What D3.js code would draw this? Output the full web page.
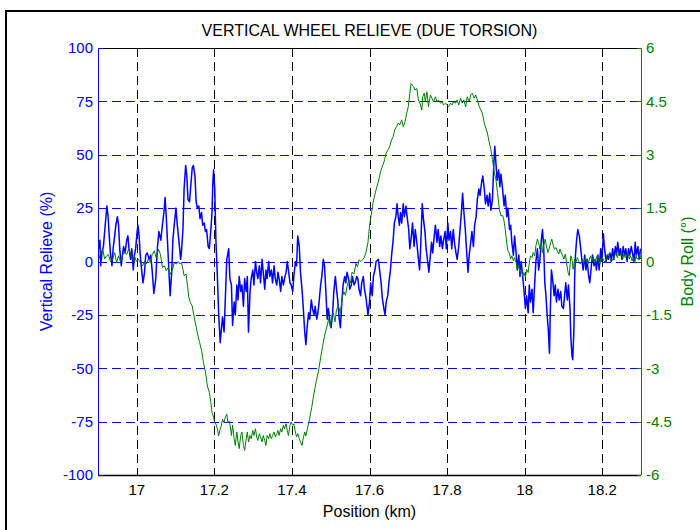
<!DOCTYPE html>
<html>
<head>
<meta charset="utf-8">
<script src="https://cdn.jsdelivr.net/npm/d3@7"></script>
<style>
  body { margin: 0; background: #fff; }
  svg text { font-family: "Liberation Sans", Arial, sans-serif; }
</style>
</head>
<body>
<div id="chart"></div>
<script>
// tick labels
const xTicks = [17, 17.2, 17.4, 17.6, 17.8, 18, 18.2]
const leftTicks = [-100, -75, -50, -25, 0, 25, 50, 75, 100]
const rightTicks = [-6, -4.5, -3, -1.5, 0, 1.5, 3, 4.5, 6]

// vertical wheel relieve [km, %]
const relieve = [
  [16.902,6],[16.905,10],[16.907,-2],[16.910,4],[16.914,7],[16.919,18],[16.923,26],[16.926,21],[16.929,12],[16.932,4],
  [16.936,-2],[16.939,6],[16.943,12],[16.946,17],[16.950,21],[16.953,17],[16.956,6],[16.960,-2],[16.963,3],[16.966,7],
  [16.970,4],[16.974,10],[16.977,12],[16.980,6],[16.984,1],[16.987,6],[16.991,-4],[16.994,3],[16.997,6],[17.001,14],
  [17.003,17],[17.006,12],[17.009,3],[17.013,-5],[17.016,-10],[17.020,-5],[17.023,3],[17.027,4],[17.032,1],[17.036,3],
  [17.040,-5],[17.044,-15],[17.049,-8],[17.053,6],[17.057,14],[17.062,10],[17.066,17],[17.070,23],[17.073,30],[17.076,21],
  [17.079,10],[17.083,-5],[17.086,-16],[17.090,-5],[17.093,10],[17.097,18],[17.101,25],[17.104,18],[17.109,9],[17.113,1],
  [17.115,4],[17.119,15],[17.122,34],[17.126,45],[17.129,40],[17.132,29],[17.136,28],[17.139,35],[17.143,44],[17.146,45],
  [17.150,40],[17.153,28],[17.156,25],[17.160,26],[17.163,20],[17.167,23],[17.170,17],[17.174,18],[17.177,14],[17.180,15],
  [17.184,7],[17.187,6],[17.191,15],[17.194,23],[17.196,37],[17.198,43],[17.201,34],[17.204,10],[17.208,-8],[17.211,-24],
  [17.215,-38],[17.218,-32],[17.221,-26],[17.225,-33],[17.228,-19],[17.232,1],[17.237,6],[17.240,-8],
  [17.244,-11],[17.247,-30],[17.251,-19],[17.254,-25],[17.258,-11],[17.261,-18],[17.264,-7],[17.268,-14],[17.271,-11],[17.275,-21],
  [17.278,-8],[17.282,-14],[17.285,-7],[17.288,-33],[17.292,-14],[17.295,-8],[17.299,-4],[17.302,-11],[17.306,0],[17.309,-5],
  [17.312,-8],[17.316,-2],[17.319,-10],[17.323,1],[17.326,-5],[17.330,-13],[17.333,-4],[17.336,-8],[17.340,0],[17.343,-7],
  [17.347,-4],[17.350,-10],[17.354,-2],[17.357,-8],[17.361,-11],[17.364,-5],[17.367,-8],[17.371,-14],[17.374,-7],[17.378,-11],
  [17.381,-8],[17.385,-5],[17.388,0],[17.391,-4],[17.395,-10],[17.398,-11],[17.402,-14],[17.405,-7],[17.409,0],[17.412,-2],
  [17.415,12],[17.419,7],[17.422,-5],[17.426,-13],[17.429,-21],[17.433,-33],[17.436,-39],[17.439,-31],[17.443,-24],[17.446,-27],
  [17.450,-18],[17.453,-22],[17.457,-25],[17.460,-21],[17.464,-27],[17.467,-24],[17.470,-19],[17.474,-11],[17.477,-7],[17.481,1],
  [17.484,-2],[17.488,-16],[17.491,-27],[17.494,-22],[17.498,-28],[17.501,-31],[17.505,-24],[17.508,-14],[17.512,-7],[17.515,-13],
  [17.518,-18],[17.522,-27],[17.525,-31],[17.529,-18],[17.532,-11],[17.536,-7],[17.539,-10],[17.542,-5],[17.546,-8],[17.549,-13],
  [17.553,-11],[17.556,-7],[17.560,-11],[17.563,-10],[17.567,-7],[17.570,-8],[17.573,-13],[17.577,-16],[17.580,-10],[17.584,-7],
  [17.587,-13],
  [17.591,-17],[17.596,-25],[17.600,-19],[17.603,-10],[17.607,-16],[17.610,-7],[17.614,-4],[17.617,0],[17.623,1],[17.626,-4],
  [17.630,-10],[17.633,-17],[17.637,-22],[17.640,-25],[17.643,-19],[17.647,-16],[17.650,-10],[17.654,-4],[17.657,3],[17.661,10],
  [17.664,18],[17.668,21],[17.671,27],[17.674,21],[17.677,17],[17.680,23],[17.683,18],[17.687,27],[17.690,21],[17.694,26],
  [17.697,21],[17.701,15],[17.704,6],[17.708,12],[17.711,18],[17.715,7],[17.718,15],[17.722,9],[17.725,3],[17.729,-4],
  [17.732,7],[17.736,27],[17.739,20],[17.743,14],[17.746,6],[17.750,0],[17.753,-5],[17.757,3],[17.760,9],[17.763,4],
  [17.767,12],[17.770,17],[17.774,9],[17.777,15],[17.781,7],[17.784,12],[17.788,6],[17.791,10],[17.795,14],[17.798,6],
  [17.802,18],[17.805,10],[17.809,14],[17.812,6],[17.816,15],[17.819,9],[17.823,4],[17.826,1],[17.830,7],[17.833,14],
  [17.837,23],[17.840,32],[17.843,24],[17.847,15],[17.850,6],[17.854,-5],[17.857,3],[17.861,9],[17.864,14],[17.868,7],
  [17.871,17],[17.875,21],[17.878,29],[17.882,34],[17.885,31],[17.889,37],[17.892,40],[17.896,34],[17.899,27],[17.903,31],
  [17.906,26],[17.910,32],[17.913,24],[17.917,29],[17.920,43],[17.923,54],[17.926,46],[17.929,38],[17.933,43],[17.936,35],
  [17.939,41],
  [17.943,34],[17.947,26],[17.950,31],[17.954,21],[17.957,25],[17.961,15],[17.964,17],[17.967,9],[17.971,3],[17.974,12],
  [17.978,4],[17.981,-4],[17.985,3],[17.988,-7],[17.991,0],[17.995,-7],[17.998,-13],[18.002,-22],[18.005,-16],[18.009,-24],
  [18.012,-11],[18.015,-19],[18.019,-13],[18.022,-24],[18.026,-10],[18.029,0],[18.033,6],[18.036,-4],[18.039,0],[18.043,10],
  [18.046,15],[18.049,7],[18.052,-10],[18.055,-16],[18.058,-25],[18.061,-32],[18.064,-43],[18.066,-25],[18.069,-4],[18.072,-8],
  [18.076,-16],[18.079,-11],[18.082,-19],[18.086,-13],[18.089,-18],[18.093,-14],[18.096,-21],[18.100,-22],[18.103,-16],[18.106,-10],
  [18.110,-18],[18.113,-11],[18.117,-22],[18.119,-35],[18.122,-44],[18.124,-46],[18.127,-32],[18.129,-7],[18.131,3],[18.134,10],
  [18.137,15],[18.141,12],[18.144,7],[18.148,0],[18.151,-4],[18.155,3],[18.158,-4],[18.161,1],[18.165,-7],[18.168,-10],
  [18.172,-2],[18.175,3],[18.179,-2],[18.182,1],[18.185,-4],[18.189,3],[18.192,-4],[18.196,6],[18.199,0],[18.203,13],
  [18.206,6],[18.210,0],[18.213,3],[18.216,1],[18.220,4],[18.223,0],[18.227,6],[18.230,1],[18.234,7],[18.237,3],
  [18.240,9],[18.244,3],[18.247,6],[18.251,1],[18.254,7],[18.258,3],[18.261,6],[18.264,0],[18.268,6],[18.271,3],
  [18.275,7],[18.278,4],[18.282,0],[18.285,9],[18.288,3],[18.292,7],[18.295,1],[18.299,6]
]

// body roll [km, deg]
const roll = [
  [16.902,0.07],[16.907,0.25],[16.912,0.35],[16.917,0.07],[16.922,0.16],[16.927,0.2],[16.932,0],[16.938,0.07],[16.943,0.25],[16.948,-0.03],
  [16.953,0.16],[16.958,0],[16.963,0.16],[16.968,0.3],[16.974,0.2],[16.979,0.35],[16.984,0.2],[16.989,0.07],[16.994,0.16],[16.999,0],
  [17.004,0.07],[17.009,-0.03],[17.015,-0.12],[17.020,0],[17.025,-0.07],[17.030,0.07],[17.035,-0.03],[17.040,0.2],[17.045,0.3],[17.050,0.11],
  [17.056,0.35],[17.061,0.2],[17.066,-0.17],[17.071,-0.12],[17.076,-0.26],[17.081,-0.17],[17.086,-0.36],[17.091,-0.26],[17.097,-0.03],[17.102,-0.07],
  [17.107,0],[17.112,-0.07],[17.115,-0.03],[17.119,-0.22],[17.122,-0.4],[17.127,-0.35],[17.131,-0.7],[17.134,-1.0],[17.138,-1.15],[17.143,-1.25],
  [17.146,-1.45],[17.151,-1.72],[17.156,-2.0],[17.162,-2.28],[17.167,-2.5],[17.172,-2.84],[17.177,-3.1],[17.182,-3.5],[17.187,-3.68],[17.191,-3.96],
  [17.194,-4.25],[17.197,-4.34],[17.201,-4.53],[17.204,-4.57],[17.208,-4.71],[17.211,-4.9],[17.215,-4.71],[17.218,-4.62],[17.221,-4.43],[17.225,-4.53],
  [17.228,-4.39],[17.232,-4.29],[17.235,-4.53],[17.238,-4.48],[17.241,-4.62],
  [17.244,-4.89],[17.247,-4.6],[17.251,-4.98],[17.254,-5.17],[17.258,-4.79],[17.261,-5.07],[17.264,-5.26],[17.268,-4.89],[17.271,-4.79],[17.275,-5.17],
  [17.278,-5.31],[17.282,-4.98],[17.285,-4.79],[17.288,-5.07],[17.292,-4.89],[17.295,-4.98],[17.299,-4.75],[17.302,-4.89],[17.306,-4.7],[17.309,-4.93],
  [17.312,-5.03],[17.316,-4.84],[17.319,-4.93],[17.323,-5.07],[17.326,-4.89],[17.330,-5.03],[17.333,-5.17],[17.336,-4.89],[17.340,-4.98],[17.343,-4.84],
  [17.347,-4.98],[17.350,-4.89],[17.354,-4.79],[17.357,-4.93],[17.361,-4.84],[17.364,-4.75],[17.367,-4.89],[17.371,-4.7],[17.374,-4.79],[17.378,-4.6],
  [17.381,-4.7],[17.385,-4.56],[17.388,-4.75],[17.391,-4.89],[17.395,-4.6],[17.398,-4.51],[17.402,-4.6],[17.405,-4.56],[17.409,-4.79],[17.412,-4.93],
  [17.415,-4.84],[17.419,-4.98],[17.422,-5.07],[17.426,-5.17],[17.429,-4.98],
  [17.433,-4.79],[17.436,-4.9],[17.440,-4.7],[17.445,-4.45],[17.451,-4.1],[17.457,-3.7],[17.463,-3.35],[17.469,-3.05],[17.474,-2.7],[17.479,-2.39],
  [17.484,-2.1],[17.488,-1.92],[17.492,-1.75],[17.495,-1.6],[17.499,-1.85],[17.503,-1.55],[17.507,-1.45],[17.511,-1.7],[17.515,-1.35],[17.520,-1.25],
  [17.525,-1.45],[17.530,-0.99],[17.534,-0.85],[17.538,-0.95],[17.542,-0.7],[17.547,-0.52],[17.551,-0.6],[17.555,-0.3],[17.560,-0.35],[17.565,-0.05],
  [17.569,-0.15],[17.573,0.05],[17.578,0.0],[17.582,0.05],[17.586,0.1],
  [17.591,0.25],[17.596,0.53],[17.600,1.0],[17.604,1.28],[17.609,1.65],[17.613,1.84],[17.617,2.02],[17.622,2.21],[17.626,2.4],[17.630,2.58],
  [17.635,2.72],[17.639,2.86],[17.643,3.05],[17.648,3.14],[17.652,3.23],[17.657,3.42],[17.661,3.51],[17.665,3.7],[17.670,3.79],[17.674,3.89],
  [17.678,3.84],[17.683,3.98],[17.687,3.79],[17.691,3.89],[17.696,4.17],[17.700,4.35],[17.704,4.73],[17.707,5.0],[17.710,4.96],[17.714,4.91],
  [17.717,4.82],[17.722,4.86],[17.726,4.54],[17.730,4.45],[17.735,4.26],[17.737,4.63],[17.741,4.73],[17.744,4.49],[17.748,4.77],[17.752,4.35],
  [17.757,4.68],[17.761,4.59],[17.765,4.49],[17.770,4.63],[17.774,4.49],[17.778,4.54],[17.783,4.45],[17.787,4.49],[17.791,4.4],[17.796,4.45],
  [17.800,4.4],[17.804,4.35],[17.809,4.45],[17.813,4.4],[17.817,4.49],[17.822,4.45],[17.826,4.54],[17.830,4.4],[17.835,4.59],[17.839,4.45],
  [17.843,4.54],[17.848,4.35],[17.852,4.63],[17.857,4.49],[17.861,4.68],[17.865,4.73],[17.870,4.59],[17.874,4.68],[17.878,4.54],[17.883,4.35],
  [17.887,4.26],[17.891,4.17],[17.896,3.89],[17.900,3.75],[17.904,3.61],[17.909,3.33],[17.913,3.14],[17.917,2.86],[17.922,2.49],[17.926,2.3],
  [17.930,1.93],[17.935,1.46],[17.939,1.28],[17.943,1.3],[17.946,1.2],[17.950,0.9],[17.954,0.5],
  [17.957,0.3],[17.961,0.21],[17.964,0.07],[17.967,0.16],[17.971,0.02],[17.974,0.11],[17.978,-0.03],[17.981,-0.22],[17.985,-0.12],[17.988,-0.31],
  [17.991,-0.22],[17.995,-0.4],[17.998,-0.31],[18.002,-0.45],[18.005,-0.22],[18.009,-0.31],[18.012,-0.03],[18.015,0.16],[18.019,0.11],[18.022,0.25],
  [18.026,0.16],[18.029,0.44],[18.033,0.63],[18.036,0.53],[18.039,0.35],[18.043,0.53],[18.046,0.25],[18.050,0.49],[18.053,0.63],[18.056,0.44],
  [18.060,0.25],[18.063,0.35],[18.067,0.53],[18.070,0.63],[18.074,0.44],[18.077,0.35],[18.081,0.39],[18.084,0.3],[18.088,0.21],[18.091,0.35],
  [18.094,0.25],[18.098,0.16],[18.101,0.07],[18.105,0.21],[18.108,-0.03],[18.112,-0.31],[18.115,-0.4],[18.119,0.16],[18.122,0.07],[18.125,-0.22],
  [18.129,0.07],[18.132,-0.03],[18.136,0.11],[18.139,0.02],[18.143,-0.07],[18.146,-0.03],[18.149,0.07],[18.153,-0.03],[18.156,0.11],[18.160,0.02],
  [18.163,-0.07],[18.167,0.07],[18.170,0.16],[18.173,0.02],[18.177,0.11],[18.180,-0.03],[18.184,0.07],[18.187,0.16],[18.191,0.02],[18.194,-0.07],
  [18.197,0.07],[18.201,0.11],[18.204,0.02],[18.208,-0.03],[18.211,0.11],[18.215,0.21],[18.218,0.16],[18.222,0.07],[18.225,0.02],[18.229,0.11],
  [18.232,0.16],[18.235,0.25],[18.239,0.11],[18.242,0.21],[18.246,0.16],[18.249,0.25],[18.253,0.07],[18.256,0.21],[18.259,0.11],[18.263,0.16],
  [18.266,0.25],[18.270,0.07],[18.273,0.16],[18.277,0.02],[18.280,0.11],[18.284,-0.03],[18.287,0.16],[18.290,0.07],[18.294,0.11],[18.297,0.21],
  [18.299,0.07]
]

const svgWidth = 700, svgHeight = 530
const margin = { top: 48, right: 59, bottom: 55, left: 98 }
const width = svgWidth - margin.left - margin.right
const height = svgHeight - margin.top - margin.bottom

const blue = '#0000ff', green = '#008000'

const svg = d3.select('#chart').append('svg')
  .attr('width', svgWidth)
  .attr('height', svgHeight)

// figure frame
svg.append('path')
  .attr('d', 'M6,540V11H710')
  .attr('fill', 'none')
  .attr('stroke', '#000')
  .attr('stroke-width', 2)

const g = svg.append('g')
  .attr('transform', 'translate(' + margin.left + ',' + margin.top + ')')

const x = d3.scaleLinear().domain([16.9, 18.3]).range([0, width])
const yL = d3.scaleLinear().domain([-100, 100]).range([height, 0])
const yR = d3.scaleLinear().domain([-6, 6]).range([height, 0])

const px = v => Math.round(v) + 0.5

// grid
g.append('g').selectAll('line').data(xTicks).join('line')
  .attr('x1', d => px(x(d))).attr('x2', d => px(x(d)))
  .attr('y1', 0).attr('y2', height)
  .attr('stroke', '#000').attr('stroke-dasharray', '9,5')

g.append('g').selectAll('line').data(leftTicks.slice(1, -1)).join('line')
  .attr('x1', 0).attr('x2', width)
  .attr('y1', d => px(yL(d))).attr('y2', d => px(yL(d)))
  .attr('stroke', blue).attr('stroke-dasharray', '9,5')

// traces
svg.append('clipPath').attr('id', 'clip')
  .append('rect').attr('width', width).attr('height', height)

const plot = g.append('g').attr('clip-path', 'url(#clip)')

const lineL = d3.line().x(d => x(d[0])).y(d => yL(d[1]))
const lineR = d3.line().x(d => x(d[0])).y(d => yR(d[1]))

plot.append('path').datum(relieve)
  .attr('d', lineL)
  .attr('fill', 'none')
  .attr('stroke', blue)
  .attr('stroke-width', 1.5)
  .attr('stroke-linejoin', 'round')

plot.append('path').datum(roll)
  .attr('d', lineR)
  .attr('fill', 'none')
  .attr('stroke', green)
  .attr('stroke-width', 1)

// box
g.append('line').attr('x1', 0).attr('x2', width).attr('y1', 0.5).attr('y2', 0.5).attr('stroke', '#000')
g.append('line').attr('x1', 0).attr('x2', width).attr('y1', height + 0.5).attr('y2', height + 0.5)
  .attr('stroke', '#000').attr('stroke-width', 1.5)
g.append('line').attr('x1', 0.5).attr('x2', 0.5).attr('y1', 0).attr('y2', height).attr('stroke', blue)
g.append('line').attr('x1', width + 0.5).attr('x2', width + 0.5).attr('y1', 0).attr('y2', height).attr('stroke', green)

// ticks inside
g.append('g').selectAll('line').data(xTicks).join('line')
  .attr('x1', d => px(x(d))).attr('x2', d => px(x(d)))
  .attr('y1', height).attr('y2', height - 5)
  .attr('stroke', '#000')
g.append('g').selectAll('line').data(leftTicks).join('line')
  .attr('x1', 0).attr('x2', 5)
  .attr('y1', d => px(yL(d))).attr('y2', d => px(yL(d)))
  .attr('stroke', blue)
g.append('g').selectAll('line').data(rightTicks).join('line')
  .attr('x1', width - 4).attr('x2', width)
  .attr('y1', d => px(yR(d))).attr('y2', d => px(yR(d)))
  .attr('stroke', green)

// tick labels
const fs = 15
g.append('g').selectAll('text').data(xTicks).join('text')
  .attr('x', d => x(d)).attr('y', height + 20)
  .attr('text-anchor', 'middle')
  .attr('font-size', fs)
  .attr('fill', '#000')
  .text(d => d3.format('')(d))

g.append('g').selectAll('text').data(leftTicks).join('text')
  .attr('x', -5).attr('y', d => yL(d)).attr('dy', '0.35em')
  .attr('text-anchor', 'end')
  .attr('font-size', fs)
  .attr('fill', blue)
  .text(d => d)

g.append('g').selectAll('text').data(rightTicks).join('text')
  .attr('x', width + 5).attr('y', d => yR(d)).attr('dy', '0.35em')
  .attr('text-anchor', 'start')
  .attr('font-size', fs)
  .attr('fill', green)
  .text(d => d)

// titles
svg.append('text')
  .attr('x', margin.left + width / 2).attr('y', 36)
  .attr('text-anchor', 'middle')
  .attr('font-size', 16)
  .text('VERTICAL WHEEL RELIEVE (DUE TORSION)')

svg.append('text')
  .attr('x', margin.left + width / 2).attr('y', 517)
  .attr('text-anchor', 'middle')
  .attr('font-size', 16)
  .text('Position (km)')

svg.append('text')
  .attr('transform', 'translate(52,' + (margin.top + height / 2) + ') rotate(-90)')
  .attr('text-anchor', 'middle')
  .attr('font-size', 16)
  .attr('fill', blue)
  .text('Vertical Relieve (%)')

svg.append('text')
  .attr('transform', 'translate(693,' + (margin.top + height / 2) + ') rotate(-90)')
  .attr('text-anchor', 'middle')
  .attr('font-size', 16)
  .attr('fill', green)
  .text('Body Roll (°)')
</script>
</body>
</html>
